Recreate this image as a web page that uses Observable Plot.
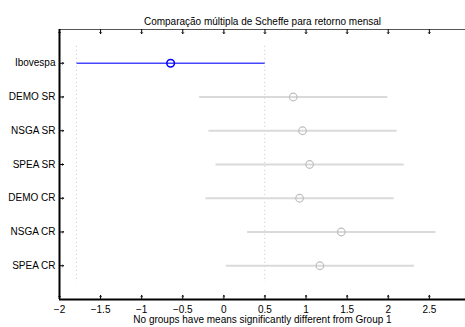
<!DOCTYPE html>
<html>
<head>
<meta charset="utf-8">
<script src="https://cdn.jsdelivr.net/npm/d3@7"></script>
<script src="https://cdn.jsdelivr.net/npm/@observablehq/plot@0.6"></script>
<style>
  html, body { margin: 0; padding: 0; background: #fff; }
  svg { font-family: "Liberation Sans", Arial, Helvetica, sans-serif; }
</style>
</head>
<body>
<div id="chart"></div>
<script>
// Scheffe multiple comparison of monthly returns: group means with comparison intervals
const groups = ["Ibovespa", "DEMO SR", "NSGA SR", "SPEA SR", "DEMO CR", "NSGA CR", "SPEA CR"];
const means = [-0.648, 0.844, 0.957, 1.043, 0.921, 1.428, 1.168];
const halfWidths = [1.145, 1.145, 1.145, 1.145, 1.145, 1.145, 1.145];
const xTicks = [-2, -1.5, -1, -0.5, 0, 0.5, 1, 1.5, 2, 2.5];
const xDomain = [-2, 2.94];
const title = "Comparação múltipla de Scheffe para retorno mensal";
const xLabel = "No groups have means significantly different from Group 1";
const selected = 0; // Group 1 (Ibovespa) is the reference group

const rows = groups.map((g, i) => ({
  group: g,
  pos: i + 1,
  mean: means[i],
  lo: means[i] - halfWidths[i],
  hi: means[i] + halfWidths[i],
  sel: i === selected
}));
const ref = rows[selected];
const n = groups.length;
const fmt = d => String(d).replace("-", "\u2212");

const chart = Plot.plot({
  width: 465,
  height: 327,
  marginTop: 29,
  marginBottom: 28,
  marginLeft: 59,
  marginRight: 0,
  style: { fontSize: "10px", fontFamily: '"Liberation Sans", Arial, sans-serif', color: "#000" },
  x: { domain: xDomain },
  y: { domain: [0, n + 1], reverse: true },
  marks: [
    // reference interval bounds of the selected group
    Plot.ruleX([ref.lo, ref.hi], { y1: 0.5, y2: n + 0.5, stroke: "#c8c8c8", strokeDasharray: "1,3", strokeWidth: 1 }),
    // comparison intervals
    Plot.link(rows.filter(d => !d.sel), { x1: "lo", x2: "hi", y1: "pos", y2: "pos", stroke: "#dadada", strokeWidth: 2 }),
    Plot.link(rows.filter(d => d.sel), { x1: "lo", x2: "hi", y1: "pos", y2: "pos", stroke: "#4646ff", strokeWidth: 1.5 }),
    // group means
    Plot.dot(rows.filter(d => !d.sel), { x: "mean", y: "pos", r: 3.8, stroke: "#bdbdbd", strokeWidth: 1.2, fill: "none" }),
    Plot.dot(rows.filter(d => d.sel), { x: "mean", y: "pos", r: 3.8, stroke: "#0000ff", strokeWidth: 1.5, fill: "none" }),
    // frame
    Plot.ruleY([0], { stroke: "#555", strokeWidth: 1 }),
    Plot.ruleY([n + 1], { stroke: "#000", strokeWidth: 2 }),
    Plot.ruleX([xDomain[0]], { stroke: "#000", strokeWidth: 2 }),
    // inward tick marks
    Plot.vector(xTicks, { x: d => d, frameAnchor: "bottom", rotate: 0, length: 4, anchor: "start", stroke: "#000", strokeWidth: 1 }),
    Plot.vector(xTicks, { x: d => d, frameAnchor: "top", rotate: 180, length: 4, anchor: "start", stroke: "#000", strokeWidth: 1 }),
    Plot.vector(rows, { y: "pos", frameAnchor: "left", rotate: 90, length: 4, anchor: "start", stroke: "#000", strokeWidth: 1 }),
    // tick labels
    Plot.axisX({ anchor: "bottom", ticks: xTicks, tickSize: 0, tickPadding: 6, tickFormat: fmt, label: null, fontSize: 10 }),
    Plot.axisY({ anchor: "left", ticks: rows.map(d => d.pos), tickSize: 0, tickPadding: 4, tickFormat: p => groups[p - 1], label: null, fontSize: 10 }),
    // title and x label
    Plot.text([title], { frameAnchor: "top", dy: -12, fontSize: 10, fill: "#000" }),
    Plot.text([xLabel], { frameAnchor: "bottom", dy: 23, fontSize: 10, fill: "#000" })
  ]
});
document.getElementById("chart").appendChild(chart);
</script>
</body>
</html>
